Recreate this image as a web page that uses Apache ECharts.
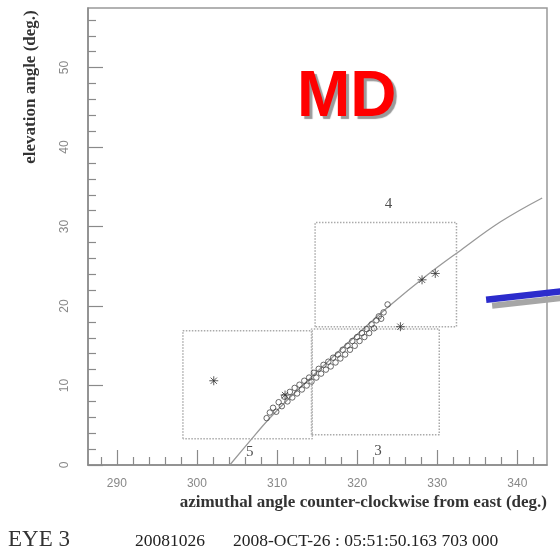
<!DOCTYPE html>
<html>
<head>
<meta charset="utf-8">
<script src="https://cdn.jsdelivr.net/npm/echarts@6/dist/echarts.min.js"></script>
<style>html,body{margin:0;padding:0;background:#fff}#c{width:560px;height:556px}</style>
</head>
<body>
<div id="c"></div>
<script>
// ---- tick values ----
const xMajorTicks = [290, 300, 310, 320, 330, 340];
const xMinorTicks = [288, 292, 294, 296, 298, 302, 304, 306, 308, 312, 314, 316, 318, 322, 324, 326, 328, 332, 334, 336, 338, 342];
const yMajorTicks = [0, 10, 20, 30, 40, 50];
const yMinorTicks = [2, 4, 6, 8, 12, 14, 16, 18, 22, 24, 26, 28, 32, 34, 36, 38, 42, 44, 46, 48, 52, 54, 56];

// ---- data (azimuth deg, elevation deg) ----
const fitCurve = [
  [304.1, 0], [306.6, 3.0], [308.9, 5.7], [311.6, 8.5], [315.4, 12.1], [319.1, 15.6],
  [323.9, 19.9], [328.75, 23.9], [332.9, 27.0], [337.9, 30.6], [343.1, 33.6]
];
const pixelHits = [
  [308.7, 5.9], [309.1, 6.6], [309.5, 7.2], [309.9, 6.7], [310.2, 7.9], [310.6, 7.4],
  [310.9, 8.6], [311.3, 8.0], [311.6, 9.2], [311.9, 8.5], [312.2, 9.7], [312.5, 9.0],
  [312.8, 10.1], [313.1, 9.5], [313.4, 10.6], [313.7, 10.0], [314.0, 11.0], [314.3, 10.5],
  [314.6, 11.6], [314.9, 11.0], [315.2, 12.1], [315.5, 11.5], [315.8, 12.6], [316.1, 12.0],
  [316.4, 13.0], [316.7, 12.4], [317.0, 13.5], [317.3, 12.9], [317.6, 13.9], [317.9, 13.4],
  [318.2, 14.5], [318.5, 13.9], [318.8, 15.0], [319.1, 14.5], [319.4, 15.6], [319.7, 15.0],
  [320.0, 16.1], [320.3, 15.6], [320.6, 16.6], [320.9, 16.1], [321.2, 17.1], [321.5, 16.6],
  [321.8, 17.7], [322.1, 17.2], [322.4, 18.2], [322.7, 18.7], [323.0, 18.4], [323.3, 19.2],
  [323.8, 20.2]
];
const stars = [[302.1, 10.6], [311.0, 8.8], [325.4, 17.4], [328.1, 23.3], [329.75, 24.1]];
const box5 = [[298.25, 3.3], [298.25, 16.9], [314.4, 16.9], [314.4, 3.3], [298.25, 3.3]];
const box3 = [[314.3, 3.8], [314.3, 17.1], [330.25, 17.1], [330.25, 3.8], [314.3, 3.8]];
const box4 = [[314.75, 17.4], [314.75, 30.5], [332.4, 30.5], [332.4, 17.4], [314.75, 17.4]];
const boxLabels = [{name: '4', value: [323.9, 32.8]}, {name: '5', value: [306.6, 1.6]}, {name: '3', value: [322.6, 1.8]}];
const blueTrack = [[336.1, 20.8], [346.0, 21.9]];

const chart = echarts.init(document.getElementById('c'));
const axisGray = '#8a8a8a';
const labelFont = {color: '#888', fontSize: 12, fontFamily: 'Liberation Sans'};
const xBase = {type: 'value', min: 286.4, max: 343.7, position: 'bottom', splitLine: {show: false}};
const yBase = {type: 'value', min: 0, max: 57.5, position: 'left', splitLine: {show: false}};

const dotted = {type: 'dotted', color: '#aaa', width: 1.5};
function boxSeries(d) {
  return {type: 'line', data: d, symbol: 'none', lineStyle: dotted, silent: true, z: 2};
}

const texts = [
  {type: 'text', left: 297, top: 66, z: 10,
   style: {text: 'MD', fill: '#ff0000', font: 'bold 64px "Liberation Sans"',
           textShadowColor: '#9a9a9a', textShadowOffsetX: 3, textShadowOffsetY: 3, textShadowBlur: 1}},
  {type: 'text', x: 31, y: 87, rotation: Math.PI / 2,
   style: {text: 'elevation angle (deg.)', fill: '#333', font: 'bold 17px "Liberation Serif"', textAlign: 'center', textVerticalAlign: 'middle'}},
  {type: 'text', x: 547, y: 503,
   style: {text: 'azimuthal angle counter-clockwise from east (deg.)', fill: '#333', font: 'bold 17px "Liberation Serif"', textAlign: 'right', textVerticalAlign: 'middle'}},
  {type: 'text', x: 8, y: 540,
   style: {text: 'EYE 3', fill: '#333', font: '23px "Liberation Serif"', textAlign: 'left', textVerticalAlign: 'middle'}},
  {type: 'text', x: 135, y: 541,
   style: {text: '20081026', fill: '#222', font: '17.5px "Liberation Serif"', textAlign: 'left', textVerticalAlign: 'middle'}},
  {type: 'text', x: 233, y: 541,
   style: {text: '2008-OCT-26 : 05:51:50.163 703 000', fill: '#222', font: '17.5px "Liberation Serif"', textAlign: 'left', textVerticalAlign: 'middle'}}
];

chart.setOption({
  animation: false,
  grid: {left: 88, right: 13, top: 8, bottom: 91, show: true, borderColor: '#999', borderWidth: 1.5},
  xAxis: [
    Object.assign({}, xBase, {
      axisLine: {show: true, lineStyle: {color: axisGray, width: 1.5}},
      axisTick: {show: true, inside: true, length: 15, customValues: xMajorTicks, lineStyle: {color: axisGray, width: 1.2}},
      axisLabel: Object.assign({customValues: xMajorTicks, margin: 13}, labelFont)
    }),
    Object.assign({}, xBase, {
      axisLine: {show: false},
      axisTick: {show: true, inside: true, length: 8, customValues: xMinorTicks, lineStyle: {color: axisGray, width: 1.2}},
      axisLabel: {show: false}
    })
  ],
  yAxis: [
    Object.assign({}, yBase, {
      axisLine: {show: true, lineStyle: {color: axisGray, width: 1.5}},
      axisTick: {show: true, inside: true, length: 15, customValues: yMajorTicks, lineStyle: {color: axisGray, width: 1.2}},
      axisLabel: Object.assign({customValues: yMajorTicks, rotate: 90, margin: 17}, labelFont)
    }),
    Object.assign({}, yBase, {
      axisLine: {show: false},
      axisTick: {show: true, inside: true, length: 8, customValues: yMinorTicks, lineStyle: {color: axisGray, width: 1.2}},
      axisLabel: {show: false}
    })
  ],
  series: [
    boxSeries(box5), boxSeries(box3), boxSeries(box4),
    {type: 'line', data: fitCurve, smooth: 0.4, symbol: 'none', lineStyle: {color: '#999', width: 1.3}, z: 3},
    {type: 'scatter', data: pixelHits, symbol: 'circle', symbolSize: 5.5,
     itemStyle: {color: 'rgba(0,0,0,0)', borderColor: '#444', borderWidth: 1}, z: 4},
    {type: 'scatter', data: stars, symbol: 'path://M5,0L5,10M0,5L10,5M1.5,1.5L8.5,8.5M8.5,1.5L1.5,8.5', symbolSize: 9,
     itemStyle: {color: 'rgba(0,0,0,0)', borderColor: '#333', borderWidth: 1}, z: 5},
    {type: 'scatter', data: boxLabels, symbolSize: 0,
     label: {show: true, position: 'inside', formatter: '{b}', color: '#222', fontSize: 15, fontFamily: 'Liberation Serif'}, z: 5}
  ],
  graphic: texts
});

// blue track annotation, positioned through the chart's own axes (allowed to run past the frame)
const p0 = chart.convertToPixel({xAxisIndex: 0, yAxisIndex: 0}, blueTrack[0]);
const p1 = chart.convertToPixel({xAxisIndex: 0, yAxisIndex: 0}, blueTrack[1]);
const track = [
  {type: 'line', z: 20, shape: {x1: p0[0] + 6, y1: p0[1] + 6, x2: p1[0] + 6, y2: p1[1] + 6},
   style: {stroke: '#a6a6a6', lineWidth: 6}},
  {type: 'line', z: 21, shape: {x1: p0[0], y1: p0[1], x2: p1[0], y2: p1[1]},
   style: {stroke: '#2b2bcc', lineWidth: 6.5}}
];
chart.setOption({graphic: texts.concat(track)}, {replaceMerge: ['graphic']});
</script>
</body>
</html>
